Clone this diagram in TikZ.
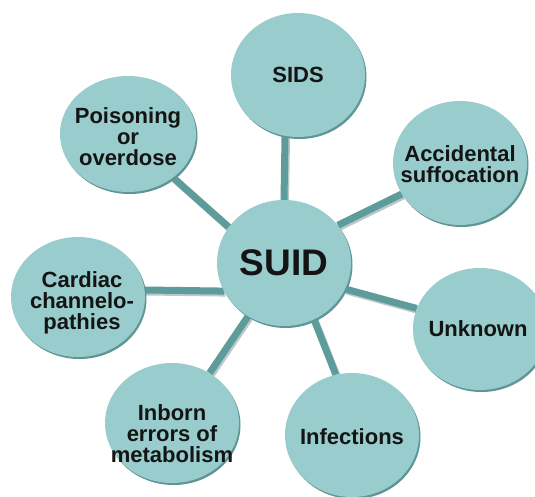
\documentclass[tikz,border=0pt]{standalone}
\usepackage{fontspec}
\setmainfont{Liberation Sans}
\usetikzlibrary{shapes.geometric,backgrounds,shadows}
\definecolor{bub}{HTML}{99CCCC}
\definecolor{rim}{HTML}{5F9595}
\definecolor{spoke}{HTML}{5E9C9C}
\definecolor{spokeshade}{HTML}{B9C9C9}
\definecolor{ink}{HTML}{141414}
\begin{document}
\begin{tikzpicture}[x=1pt,y=-1pt,
  bubble/.style={ellipse, fill=bub, inner sep=0pt, minimum width=134pt, minimum height=122pt,
    drop shadow={shadow xshift=1.5pt, shadow yshift=-2pt, fill=rim, opacity=1}},
  lbl/.style={align=center, text=ink, inner sep=0pt, font=\bfseries\fontsize{22}{21}\selectfont},
  hublbl/.style={lbl, font=\bfseries\fontsize{37}{37}\selectfont},
  spokeline/.style={line width=7pt, draw=spoke},
  spokeshadow/.style={line width=7pt, draw=spokeshade, transform canvas={xshift=1.5pt,yshift=-2pt}}
]
\useasboundingbox (0,0) rectangle (535,496);
\clip (0,0) rectangle (535,496);

\node[bubble, minimum height=126pt] (suid) at (284,263) {};
\node[bubble, minimum height=124pt] (sids) at (298,75) {};
\node[bubble, minimum height=124pt] (acc) at (460,163) {};
\node[bubble] (unk) at (480,329) {};
\node[bubble, minimum height=124pt] (inf) at (352,435) {};
\node[bubble, minimum height=120pt] (inb) at (172,423) {};
\node[bubble, minimum height=120pt] (car) at (78,297) {};
\node[bubble, minimum width=136pt, minimum height=116pt] (poi) at (128,134) {};

\node[hublbl] (suidT) at (suid.center) {SUID};
\node[lbl] (sidsT) at (sids.center) {SIDS};
\node[lbl] (accT) at ([yshift=-1pt]acc.center) {Accidental\\suffocation};
\node[lbl] (unkT) at ([xshift=-2pt]unk.center) {Unknown};
\node[lbl] (infT) at ([yshift=-2pt]inf.center) {Infections};
\node[lbl] (inbT) at ([yshift=-11pt]inb.center) {Inborn\\errors of\\metabolism};
\node[lbl] (carT) at ([xshift=4pt,yshift=-6pt]car.center) {Cardiac\\channelo-\\pathies};
\node[lbl] (poiT) at ([yshift=-3pt]poi.center) {Poisoning\\or\\overdose};

\begin{scope}[on background layer]
  \fill[white] (0,0) rectangle (535,496);
  \foreach \a/\t/\b in {90/sids/258, 35/acc/208, 337/unk/162, 298/inf/105, 236/inb/53, 205/car/6, 147/poi/316}{
    \draw[spokeshadow] (suid.\a) -- (\t.\b);
    \draw[spokeline] (suid.\a) -- (\t.\b);
  }
\end{scope}
\end{tikzpicture}
\end{document}
